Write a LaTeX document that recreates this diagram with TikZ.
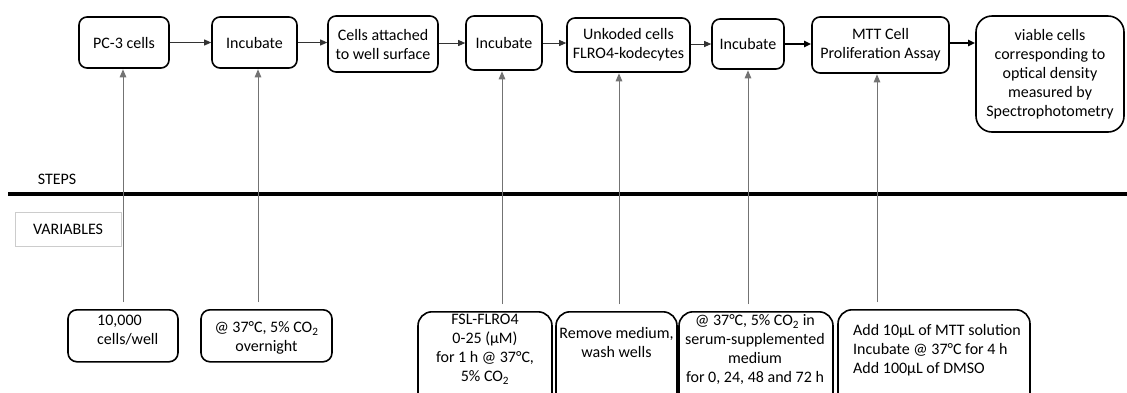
\documentclass[tikz,border=0pt]{standalone}
\usepackage{fontspec}
\setmainfont{Carlito}
\usetikzlibrary{arrows.meta}
\begin{document}
\begin{tikzpicture}[x=1pt,y=-1pt,
  font=\fontsize{16}{19}\selectfont,
  stepbox/.style={draw=black, line width=1.6pt, rounded corners=8pt, align=center, inner sep=2pt},
  varbox/.style={draw=black, line width=1.6pt, rounded corners=9pt, anchor=north, inner sep=0pt},
  vartext/.style={inner sep=0pt, align=center},
  flow/.style={draw=black!80, line width=0.9pt, -{Triangle[length=7pt,width=6pt]}},
  flowbold/.style={draw=black, line width=2pt, -{Triangle[length=7pt,width=6pt]}},
  feed/.style={draw=black!55, line width=1pt, -{Triangle[length=8pt,width=6.5pt]}, shorten <=7pt, shorten >=0.5pt}
]
\clip (0,0) rectangle (1127,392);
\fill[white] (0,0) rectangle (1127,392);

% ---- steps (top row) ----
\node[stepbox, minimum width=90, minimum height=51] (s1) at (124,42.5) {PC-3 cells};
\node[stepbox, minimum width=85, minimum height=51] (s2) at (254.5,42.5) {Incubate};
\node[stepbox, minimum width=110, minimum height=56] (s3) at (383,44) {Cells attached\\to well surface};
\node[stepbox, minimum width=76, minimum height=54] (s4) at (504,43) {Incubate};
\node[stepbox, minimum width=123, minimum height=54] (s5) at (628.5,45) {Unkoded cells\\FLRO4-kodecytes};
\node[stepbox, minimum width=72, minimum height=50] (s6) at (748,44) {Incubate};
\node[stepbox, minimum width=137, minimum height=56] (s7) at (880.5,45) {MTT Cell\\Proliferation Assay};
\node[stepbox, minimum width=148, minimum height=116, rounded corners=16pt] (s8) at (1050,74)
  {viable cells\\corresponding to\\optical density\\measured by\\Spectrophotometry};

\draw[flow] (s1.east) -- (s2.west);
\draw[flow] (s2.east) -- (s3.west |- s2.east);
\draw[flow] (s3.east |- s4.west) -- (s4.west);
\draw[flow] (s4.east) -- (s5.west |- s4.east);
\draw[flow] (s5.east |- s6.west) -- (s6.west);
\draw[flowbold] (s6.east) -- (s7.west |- s6.east);
\draw[flowbold] ([yshift=2pt]s7.east) -- ([yshift=2pt]s7.east -| s8.west);

% ---- divider ----
\node[anchor=center] (steps) at (57,179) {STEPS};
\coordinate (divL) at (8,194);
\coordinate (divR) at (1127,194);
\draw[line width=3.5pt] (divL) -- (divR);
\node[draw=black!20, line width=0.6pt, minimum width=106, minimum height=34] (vars) at (68,229) {VARIABLES};

% ---- variables (bottom row) ----
\node[varbox, minimum width=110, minimum height=52] (v1) at (123,309) {};
\node[vartext, align=left, anchor=west] at (97,330.5) {10,000\\cells/well};

\node[varbox, minimum width=131, minimum height=52] (v2) at (266.5,309) {};
\node[vartext] at (266.5,338) {@ 37°C, 5\% CO\textsubscript{2}\\overnight};

\node[varbox, minimum width=134, minimum height=100, rounded corners=14pt] (v3) at (485,311) {};
\node[vartext] at (485,349.5) {FSL-FLRO4\\0-25 (µM)\\for 1 h @ 37°C,\\5\% CO\textsubscript{2}};

\node[varbox, minimum width=121, minimum height=100, rounded corners=14pt] (v4) at (616.5,311) {};
\node[vartext] at (616.5,342.5) {Remove medium,\\wash wells};

\node[varbox, minimum width=154, minimum height=100, rounded corners=14pt] (v5) at (756,311) {};
\node[vartext] at (755,350) {@ 37°C, 5\% CO\textsubscript{2} in\\serum-supplemented\\medium\\for 0, 24, 48 and 72 h};

\node[varbox, minimum width=192, minimum height=100, rounded corners=14pt] (v6) at (934,309) {};
\node[vartext, align=left, anchor=west] at (853,350) {Add 10µL of MTT solution\\Incubate @ 37°C for 4 h\\Add 100µL of DMSO};

% ---- feeds from variables to steps ----
\draw[feed] (v1.north -| 123,0) -- (s1.south -| 123,0);
\draw[feed] (v2.north -| 258,0) -- (s2.south -| 258,0);
\draw[feed] (v3.north -| 502,0) -- (s4.south -| 502,0);
\draw[feed] (v4.north -| 619,0) -- (s5.south -| 619,0);
\draw[feed] (v5.north -| 748,0) -- (s6.south -| 748,0);
\draw[feed] (v6.north -| 877,0) -- (s7.south -| 877,0);
\end{tikzpicture}
\end{document}
